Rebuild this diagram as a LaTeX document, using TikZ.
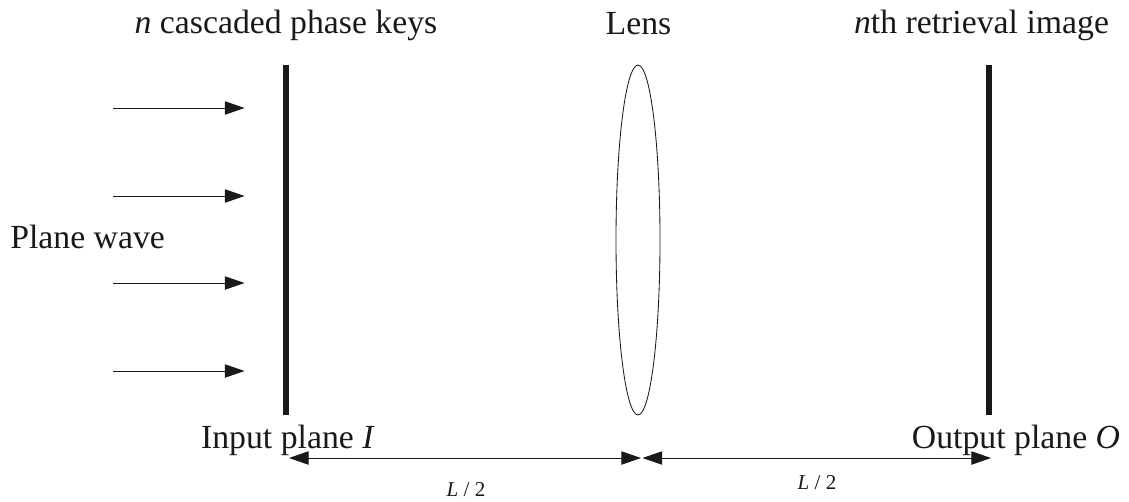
\documentclass[tikz,border=0pt]{standalone}
\usepackage{fontspec}
\setmainfont{Liberation Serif}
\usetikzlibrary{arrows.meta,shapes.geometric}
\tikzset{
  lab/.style={inner sep=0pt,anchor=base,font=\fontsize{24}{28}\selectfont,black!90},
  dimlab/.style={inner sep=0pt,anchor=base,font=\fontsize{15}{18}\selectfont,black!90},
  plane/.style={line width=4.3pt,black!90},
  wave/.style={-{Stealth[length=14pt,width=9.5pt,inset=0pt]},line width=0.7pt,black!90},
  span/.style={{Stealth[length=14pt,width=9.5pt,inset=0pt]}-{Stealth[length=14pt,width=9.5pt,inset=0pt]},line width=0.7pt,black!90}
}
\begin{document}
\begin{tikzpicture}[x=0.025cm,y=-0.025cm]
    \useasboundingbox (0,0) rectangle (1129,501);

    \node[lab] (keys) at (286,33) {\textit{n} cascaded phase keys};
    \node[lab] (lenstext) at (638.5,34) {Lens};
    \node[lab] (retrieval) at (981.5,33) {\textit{n}th retrieval image};
    \node[lab,anchor=base west] (planewave) at (10,248) {Plane wave};
    \node[lab] (input) at (288,448) {Input plane \textit{I}};
    \node[lab] (output) at (1016,448) {Output plane \textit{O}};
    \node[dimlab] (half1) at (466,496) {\textit{L} / 2};
    \node[dimlab] (half2) at (817,489) {\textit{L} / 2};

    \node[draw=black!90,ellipse,line width=0.6pt,inner sep=0pt,minimum width=31.3pt,minimum height=248.8pt] (lens) at (638,240) {};

    \coordinate (in1) at (286,65);
    \coordinate (in2) at (286,415);
    \coordinate (out1) at (989,65);
    \coordinate (out2) at (989,415);
    \draw[plane] (in1) -- (in2);
    \draw[plane] (out1) -- (out2);

    \coordinate (a1) at (113,108);
    \coordinate (b1) at (244.5,108);
    \coordinate (a2) at (113,196);
    \coordinate (b2) at (244.5,196);
    \coordinate (a3) at (113,283);
    \coordinate (b3) at (244.5,283);
    \coordinate (a4) at (113,371);
    \coordinate (b4) at (244.5,371);
    \draw[wave] (a1) -- (b1);
    \draw[wave] (a2) -- (b2);
    \draw[wave] (a3) -- (b3);
    \draw[wave] (a4) -- (b4);

    \coordinate (s1) at (289,458);
    \coordinate (s2) at (641,458);
    \coordinate (s3) at (642.5,458);
    \coordinate (s4) at (991,458);
    \draw[span] (s1) -- (s2);
    \draw[span] (s3) -- (s4);
\end{tikzpicture}
\end{document}
